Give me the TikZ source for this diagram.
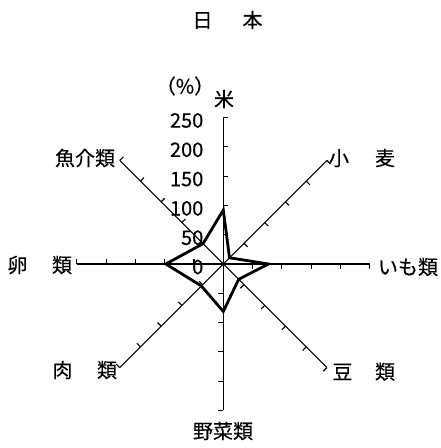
\documentclass[tikz,border=0pt]{standalone}
\usepackage{fontspec}
\setmainfont{Noto Sans CJK JP}[UprightFeatures={FakeBold=0.3}]
\usetikzlibrary{calc}
\begin{document}
\begin{tikzpicture}[x=1pt,y=1pt,
  axis/.style={line width=1.1pt,black},
  tickmark/.style={line width=1.1pt,black},
  series/.style={line width=2.8pt,line join=miter,black},
  lab/.style={font=\fontsize{20}{20}\selectfont,inner sep=0pt},
  num/.style={font=\fontsize{20}{20}\selectfont,inner sep=0pt,anchor=east}]
\useasboundingbox (0,0) rectangle (441,448);
\coordinate (O) at (223.3,184);
% axes with tick marks
\foreach \a/\n in {90/1,45/2,0/3,-45/4,-90/5,-135/6,180/7,135/8} {
  \coordinate (e\n) at ($(O)+(\a:146.5)$);
  \draw[axis] (O) -- (e\n);
  \foreach \k in {1,...,5} {
    \pgfmathsetmacro\rr{\k*29.3}
    \coordinate (t\n-\k) at ($(O)+(\a:\rr)$);
    \draw[tickmark] (t\n-\k) -- ++(\a-90:5);
  }
}
% data
\foreach \a/\v/\n in {90/92/1,45/15/2,0/77/3,-45/37/4,-90/81/5,-135/53/6,180/98/7,135/49/8} {
  \pgfmathsetmacro\rr{\v*0.586}
  \coordinate (d\n) at ($(O)+(\a:\rr)$);
}
\draw[series] (d1) -- (d2) -- (d3) -- (d4) -- (d5) -- (d6) -- (d7) -- (d8) -- cycle;
% scale numbers
\foreach \v in {0,50,100,150,200,250} {
  \pgfmathsetmacro\yy{184+\v*0.586-3}
  \node[num] (n\v) at (203.5,\yy) {\v};
}
% labels
\node[lab] (title) at (227.5,428) {日\hspace{30pt}本};
\node[lab] (pct) at (185,362) {（\%）};
\node[lab] (l1) at (224,349) {米};
\node[lab] (l2) at (362,290) {小\hspace{26pt}麦};
\node[lab] (l3) at (408,181) {いも類};
\node[lab] (l4) at (363.75,76.3) {豆\hspace{22.5pt}類};
\node[lab] (l5) at (223,17) {野菜類};
\node[lab] (l6) at (84.75,78) {肉\hspace{24.5pt}類};
\node[lab] (l7) at (39.75,183) {卵\hspace{24.5pt}類};
\node[lab] (l8) at (85,290) {魚介類};
\end{tikzpicture}
\end{document}
